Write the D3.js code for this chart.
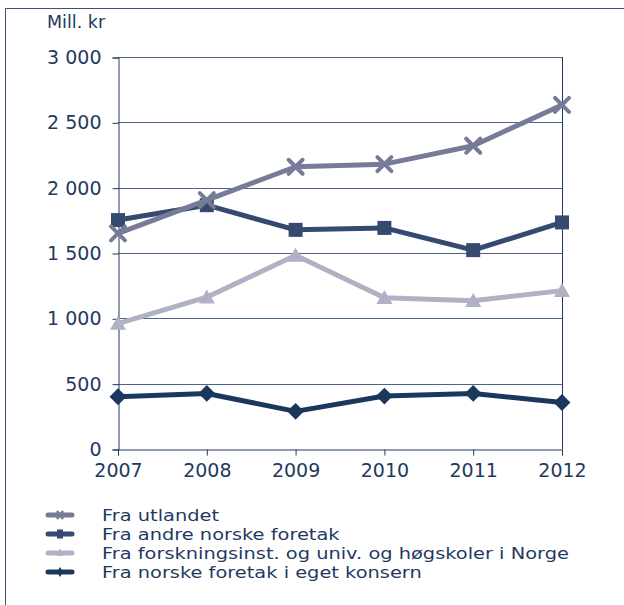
<!DOCTYPE html>
<html>
<head>
<meta charset="utf-8">
<script src="https://cdn.jsdelivr.net/npm/d3@7/dist/d3.min.js"></script>
<style>
  html, body { margin: 0; padding: 0; background: #fff; }
  svg { display: block; }
  text { font-family: "DejaVu Sans", Verdana, sans-serif; fill: #1f3a5f; }
</style>
</head>
<body>
<svg id="chart" width="624" height="605"></svg>
<script>
// Funding of R&D, million NOK, by source
const years = [2007, 2008, 2009, 2010, 2011, 2012];
const utlandet = [1650, 1905, 2160, 2180, 2321, 2633];
const andreForetak = [1752, 1866, 1677, 1692, 1522, 1734];
const forskningsinst = [960, 1162, 1482, 1158, 1135, 1212];
const egetKonsern = [400, 425, 288, 405, 425, 356];
const yTicks = [0, 500, 1000, 1500, 2000, 2500, 3000];
const seriesNames = [
  "Fra utlandet",
  "Fra andre norske foretak",
  "Fra forskningsinst. og univ. og høgskoler i Norge",
  "Fra norske foretak i eget konsern"
];

const series = [
  { name: seriesNames[0], values: utlandet, color: "#777b98", marker: "cross" },
  { name: seriesNames[1], values: andreForetak, color: "#354a6e", marker: "square" },
  { name: seriesNames[2], values: forskningsinst, color: "#b1b1c6", marker: "triangle" },
  { name: seriesNames[3], values: egetKonsern, color: "#1a375e", marker: "diamond" }
];

const svg = d3.select("#chart");
const navy = "#1f3a5f";
const fmt = v => d3.format(",")(v).replace(/,/g, " ");
const fontSize = 19;

// Frame around the figure
svg.append("path")
  .attr("d", "M5.5,605 V8.5 H624")
  .attr("fill", "none").attr("stroke", "#3b5274").attr("stroke-width", 1);

const plot = { left: 118, right: 562, top: 57, bottom: 449 };
const x = d3.scalePoint().domain(years).range([plot.left, plot.right]);
const y = d3.scaleLinear().domain([0, 3000]).range([plot.bottom, plot.top]);

// Gridlines
svg.append("g").selectAll("line").data(yTicks.filter(t => t > 0)).join("line")
  .attr("x1", plot.left).attr("x2", plot.right)
  .attr("y1", d => Math.round(y(d)) + 0.5).attr("y2", d => Math.round(y(d)) + 0.5)
  .attr("stroke", "#4d6585").attr("stroke-width", 1);

// Y axis
const yAxis = svg.append("g")
  .attr("transform", `translate(${plot.left + 0.5},0.5)`)
  .call(d3.axisLeft(y).tickValues(yTicks).tickFormat(fmt).tickSize(6).tickPadding(11));
yAxis.select(".domain").attr("stroke", navy);
yAxis.selectAll(".tick line").attr("stroke", navy);
yAxis.selectAll(".tick text").attr("font-size", fontSize).attr("fill", navy)
  .attr("font-family", "DejaVu Sans, Verdana, sans-serif");

// X axis
const xAxis = svg.append("g")
  .attr("transform", `translate(0,${plot.bottom + 0.5})`)
  .call(d3.axisBottom(x).tickSize(6).tickPadding(8));
xAxis.select(".domain").attr("stroke", navy);
xAxis.selectAll(".tick line").attr("stroke", navy);
xAxis.selectAll(".tick text").attr("font-size", fontSize).attr("fill", navy)
  .attr("font-family", "DejaVu Sans, Verdana, sans-serif");

// Right border of the plot area
svg.append("line")
  .attr("x1", plot.right + 0.5).attr("x2", plot.right + 0.5)
  .attr("y1", plot.top).attr("y2", plot.bottom)
  .attr("stroke", navy).attr("stroke-width", 1);

// Unit label
svg.append("text").attr("x", 47).attr("y", 28).attr("font-size", 17.5).text("Mill. kr");

// Marker drawing
function drawMarker(g, type, color, size) {
  const s = size;
  if (type === "cross") {
    g.append("path")
      .attr("d", `M${-s},${-s}L${s},${s}M${-s},${s}L${s},${-s}`)
      .attr("stroke", color).attr("stroke-width", 4).attr("stroke-linecap", "round");
  } else if (type === "square") {
    g.append("rect").attr("x", -s).attr("y", -s).attr("width", 2 * s).attr("height", 2 * s)
      .attr("fill", color);
  } else if (type === "triangle") {
    g.append("path").attr("d", `M0,${-s * 1.1}L${s * 1.15},${s * 0.9}L${-s * 1.15},${s * 0.9}Z`)
      .attr("fill", color);
  } else if (type === "diamond") {
    g.append("path").attr("d", `M0,${-s * 1.2}L${s * 1.2},0L0,${s * 1.2}L${-s * 1.2},0Z`)
      .attr("fill", color);
  }
}

const line = d3.line().x((d, i) => x(years[i])).y(d => y(d));

// Draw from the bottom series upward so the top lines sit above
[...series].reverse().forEach(s => {
  svg.append("path").datum(s.values)
    .attr("d", line)
    .attr("fill", "none").attr("stroke", s.color).attr("stroke-width", 5)
    .attr("stroke-linejoin", "round");
  s.values.forEach((v, i) => {
    const g = svg.append("g").attr("transform", `translate(${x(years[i])},${y(v)})`);
    drawMarker(g, s.marker, s.color, 7);
  });
});

// Legend: compact rows, text widened horizontally to keep the tight line pitch
const legend = svg.append("g");
series.forEach((s, i) => {
  const ly = 515 + i * 19;
  const g = legend.append("g").attr("transform", `translate(0,${ly})`);
  g.append("line").attr("x1", 48).attr("x2", 72).attr("y1", 0).attr("y2", 0)
    .attr("stroke", s.color).attr("stroke-width", 5).attr("stroke-linecap", "round");
  const m = g.append("g").attr("transform", "translate(60,0)");
  if (s.marker === "cross") {
    m.append("path").attr("d", "M-3,-4L3,4M-3,4L3,-4")
      .attr("stroke", s.color).attr("stroke-width", 2.5);
  } else if (s.marker === "square") {
    m.append("rect").attr("x", -3).attr("y", -4.5).attr("width", 6).attr("height", 9).attr("fill", s.color);
  } else if (s.marker === "triangle") {
    m.append("path").attr("d", "M0,-5L3,3L-3,3Z").attr("fill", s.color);
  } else {
    m.append("path").attr("d", "M0,-5L3,0L0,5L-3,0Z").attr("fill", s.color);
  }
  g.append("text")
    .attr("transform", "translate(102,6) scale(1.19,1)")
    .attr("font-size", 16.3).text(s.name);
});
</script>
</body>
</html>
